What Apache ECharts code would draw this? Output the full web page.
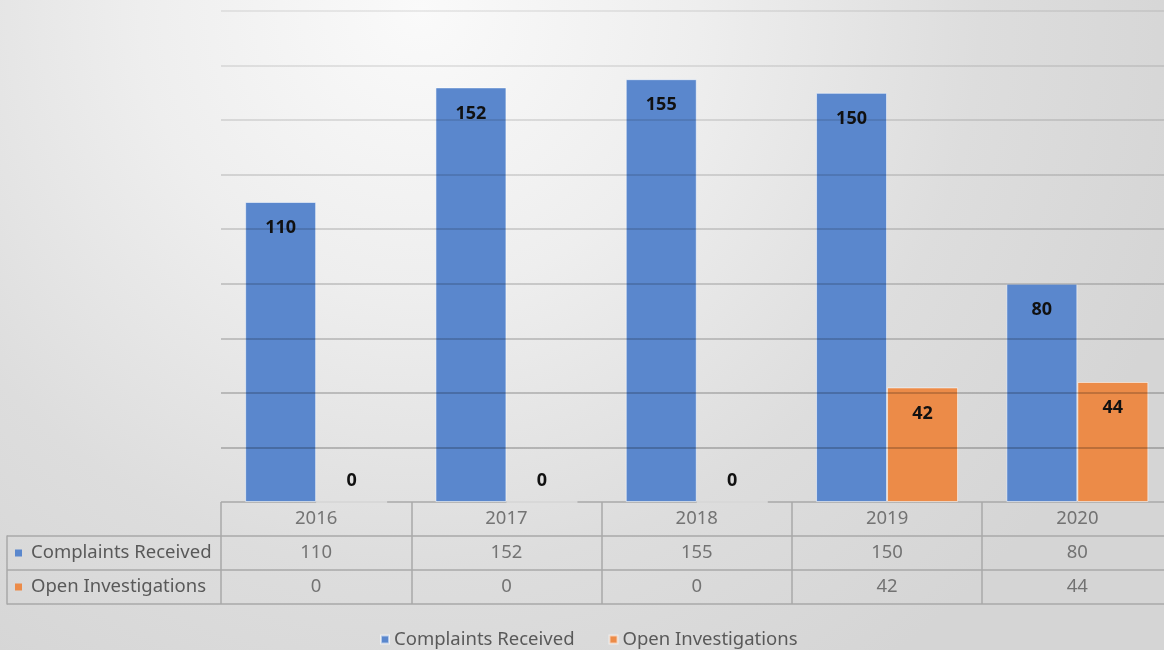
<!DOCTYPE html>
<html><head><meta charset="utf-8">
<script src="https://cdn.jsdelivr.net/npm/echarts@6/dist/echarts.min.js"></script>
<style>html,body{margin:0;padding:0;}#c{width:1164px;height:650px;}</style>
</head><body><div id="c"></div>
<script>
const years = ['2016','2017','2018','2019','2020'];
const complaints = [110, 152, 155, 150, 80];
const investigations = [0, 0, 0, 42, 44];
const seriesNames = ['Complaints Received', 'Open Investigations'];
const colors = ['#5a87cd', '#ec8b48'];
const yTicks = {min: 0, max: 180, interval: 20};

const FONT = 'Noto Sans';
const TXT = '#595959';
const BORDER = '#a9a9a9';

const rowNames = ['Year'].concat(seriesNames);
const tableData = [];
years.forEach((y, i) => {
  tableData.push([i, 0, y]);
  tableData.push([i, 1, String(complaints[i])]);
  tableData.push([i, 2, String(investigations[i])]);
});

function barData(arr) {
  return arr.map(v => ({
    value: v,
    label: v === 0 ? {position: 'top', distance: 12} : {position: 'insideTop', distance: 17}
  }));
}

const chart = echarts.init(document.getElementById('c'), null, {renderer: 'canvas'});
const gridLeft = 221, gridWidth = 951.5;

chart.setOption({
  backgroundColor: {
    type: 'radial', x: 420, y: 10, r: 800, global: true,
    colorStops: [
      {offset: 0, color: '#fafafa'},
      {offset: 0.35, color: '#eeeeee'},
      {offset: 0.7, color: '#dddddd'},
      {offset: 1, color: '#d5d5d5'}
    ]
  },
  animation: false,
  textStyle: {fontFamily: FONT},
  legend: {
    data: seriesNames,
    left: 375, top: 625,
    icon: 'rect', itemWidth: 8, itemHeight: 8, itemGap: 34,
    textStyle: {fontFamily: FONT, fontSize: 18.5, color: TXT},
    selectedMode: false
  },
  grid: [
    {left: gridLeft, top: 11, width: gridWidth, height: 491, outerBoundsMode: 'none'},
    {left: gridLeft, top: 502, width: gridWidth, height: 102, outerBoundsMode: 'none'},
    {left: 7, top: 536, width: gridLeft - 7, height: 68, outerBoundsMode: 'none'}
  ],
  xAxis: [
    {type: 'category', gridIndex: 0, data: years, axisLabel: {show: false}, axisTick: {show: false}, axisLine: {show: false}},
    {type: 'category', gridIndex: 1, data: years, axisLabel: {show: false}, axisTick: {show: false}, axisLine: {show: false},
      splitLine: {show: true, showMinLine: true, showMaxLine: true, lineStyle: {color: BORDER, width: 1.5}}},
    {type: 'value', gridIndex: 2, min: 0, max: 1, show: false}
  ],
  yAxis: [
    {type: 'value', gridIndex: 0, min: yTicks.min, max: yTicks.max, interval: yTicks.interval, z: 3,
      axisLabel: {show: false}, axisTick: {show: false}, axisLine: {show: false},
      splitLine: {show: true, showMinLine: false, lineStyle: {width: 1.5, color: {
        type: 'linear', x: 0, y: 0, x2: 0, y2: 502, global: true,
        colorStops: [{offset: 0, color: 'rgba(0,0,0,0.09)'}, {offset: 1, color: 'rgba(0,0,0,0.30)'}]
      }}}},
    {type: 'category', gridIndex: 1, data: rowNames, inverse: true,
      axisLabel: {show: false}, axisTick: {show: false}, axisLine: {show: false},
      splitLine: {show: true, showMinLine: true, showMaxLine: true, lineStyle: {color: BORDER, width: 1.5}}},
    {type: 'category', gridIndex: 2, data: seriesNames, inverse: true,
      axisTick: {show: false},
      axisLine: {show: true, lineStyle: {color: BORDER, width: 1.5}},
      splitLine: {show: true, showMinLine: true, showMaxLine: true, lineStyle: {color: BORDER, width: 1.5}},
      axisLabel: {
        inside: true, margin: 8,
        formatter: (v, i) => '{s' + i + '|}{t|' + v + '}',
        rich: {
          s0: {width: 7, height: 7, backgroundColor: colors[0]},
          s1: {width: 7, height: 7, backgroundColor: colors[1]},
          t: {fontFamily: FONT, fontSize: 18.5, color: TXT, padding: [0, 0, 0, 9]}
        }
      }}
  ],
  series: [
    {
      name: seriesNames[0], type: 'bar', xAxisIndex: 0, yAxisIndex: 0,
      data: barData(complaints), barWidth: 71, barGap: '0%',
      itemStyle: {color: colors[0], borderColor: 'rgba(255,255,255,0.55)', borderWidth: 1},
      label: {show: true, fontFamily: FONT, fontWeight: 'bold', fontSize: 18, color: '#111'},
      silent: true
    },
    {
      name: seriesNames[1], type: 'bar', xAxisIndex: 0, yAxisIndex: 0,
      data: barData(investigations), barWidth: 71, barGap: '0%',
      itemStyle: {color: colors[1], borderColor: 'rgba(255,255,255,0.55)', borderWidth: 1},
      label: {show: true, fontFamily: FONT, fontWeight: 'bold', fontSize: 18, color: '#111'},
      silent: true
    },
    {
      type: 'scatter', xAxisIndex: 1, yAxisIndex: 1, data: tableData,
      symbolSize: 1, itemStyle: {color: 'rgba(0,0,0,0)'}, silent: true,
      label: {show: true, position: 'inside', formatter: p => p.value[2],
        fontFamily: FONT, fontSize: 18.5, color: TXT}
    }
  ]
});
</script>
</body></html>
